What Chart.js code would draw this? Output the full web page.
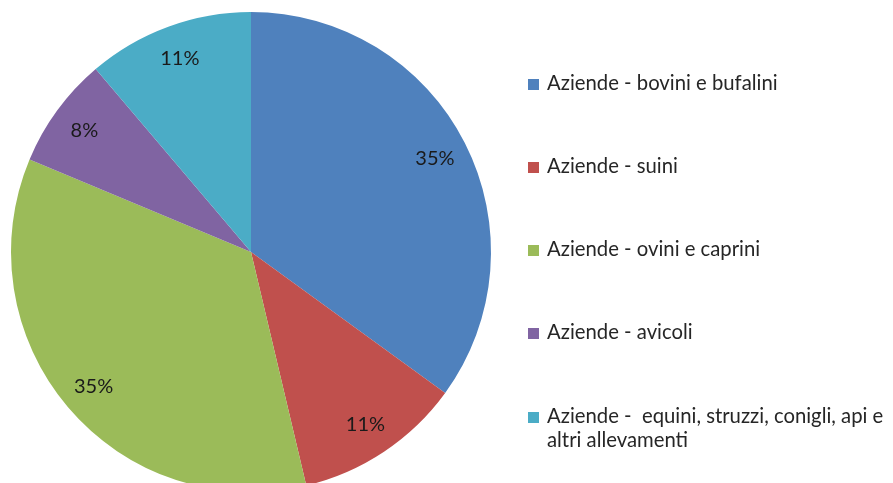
<!DOCTYPE html>
<html>
<head>
<meta charset="utf-8">
<script src="https://cdn.jsdelivr.net/npm/chart.js@4/dist/chart.umd.min.js"></script>
<style>
  html, body { margin: 0; padding: 0; background: #fff; overflow: hidden; width: 893px; height: 483px; }
  #wrap { position: relative; width: 893px; height: 483px; overflow: hidden; }
  #c { position: absolute; left: 0; top: 0; }
  #legend { position: absolute; left: 528px; top: 0; font-family: Lato, "Open Sans", sans-serif; font-size: 20.3px; color: #262626; }
  .item { position: absolute; left: 0; width: 360px; line-height: 24px; }
  .box { position: absolute; left: 0; top: 9px; width: 11px; height: 11px; }
  .txt { position: absolute; left: 19px; top: 0; white-space: nowrap; }
</style>
</head>
<body>
<div id="wrap">
  <canvas id="c" width="893" height="504"></canvas>
  <div id="legend"></div>
</div>
<script>
const categories = [
  ["Aziende - bovini e bufalini"],
  ["Aziende - suini"],
  ["Aziende - ovini e caprini"],
  ["Aziende - avicoli"],
  ["Aziende -  equini, struzzi, conigli, api e", "altri allevamenti"]
];
const values = [35.0, 11.3, 35.0, 7.5, 11.2];
const percentLabels = ["35%", "11%", "35%", "8%", "11%"];
const colors = ["#4F81BD", "#C0504D", "#9BBB59", "#8064A2", "#4BACC6"];

// HTML legend built from the arrays
const legendTops = [70, 153, 236, 319, 403];
const legend = document.getElementById('legend');
categories.forEach((lines, i) => {
  const it = document.createElement('div');
  it.className = 'item';
  it.style.top = legendTops[i] + 'px';
  const b = document.createElement('div');
  b.className = 'box';
  b.style.background = colors[i];
  it.appendChild(b);
  const t = document.createElement('div');
  t.className = 'txt';
  t.innerHTML = lines.map(s => s.replace(/ /g, '&nbsp;')).join('<br>');
  it.appendChild(t);
  legend.appendChild(it);
});

const pctPlugin = {
  id: 'pct',
  afterDatasetsDraw(chart) {
    const ctx = chart.ctx;
    const meta = chart.getDatasetMeta(0);
    ctx.save();
    const fs = 20;
    ctx.font = fs + 'px Lato, "Open Sans", sans-serif';
    ctx.fillStyle = '#1a1a1a';
    ctx.textAlign = 'center';
    ctx.textBaseline = 'alphabetic';
    meta.data.forEach((arc, i) => {
      const p = arc.getProps(['x', 'y', 'startAngle', 'endAngle', 'outerRadius'], true);
      const mid = (p.startAngle + p.endAngle) / 2;
      const r = p.outerRadius * 0.86;
      const cx = p.x + Math.cos(mid) * r;
      const cy = p.y + Math.sin(mid) * r;
      ctx.fillText(percentLabels[i], cx, cy + fs * 0.36);
    });
    ctx.restore();
  }
};

new Chart(document.getElementById('c'), {
  type: 'pie',
  data: {
    labels: categories.map(l => l.join(' ')),
    datasets: [{
      data: values,
      backgroundColor: colors,
      borderWidth: 0,
      hoverOffset: 0
    }]
  },
  options: {
    responsive: false,
    animation: false,
    layout: { padding: { left: 11, right: 402, top: 12, bottom: 12 } },
    plugins: {
      legend: { display: false },
      tooltip: { enabled: false }
    }
  },
  plugins: [pctPlugin]
});
</script>
</body>
</html>
